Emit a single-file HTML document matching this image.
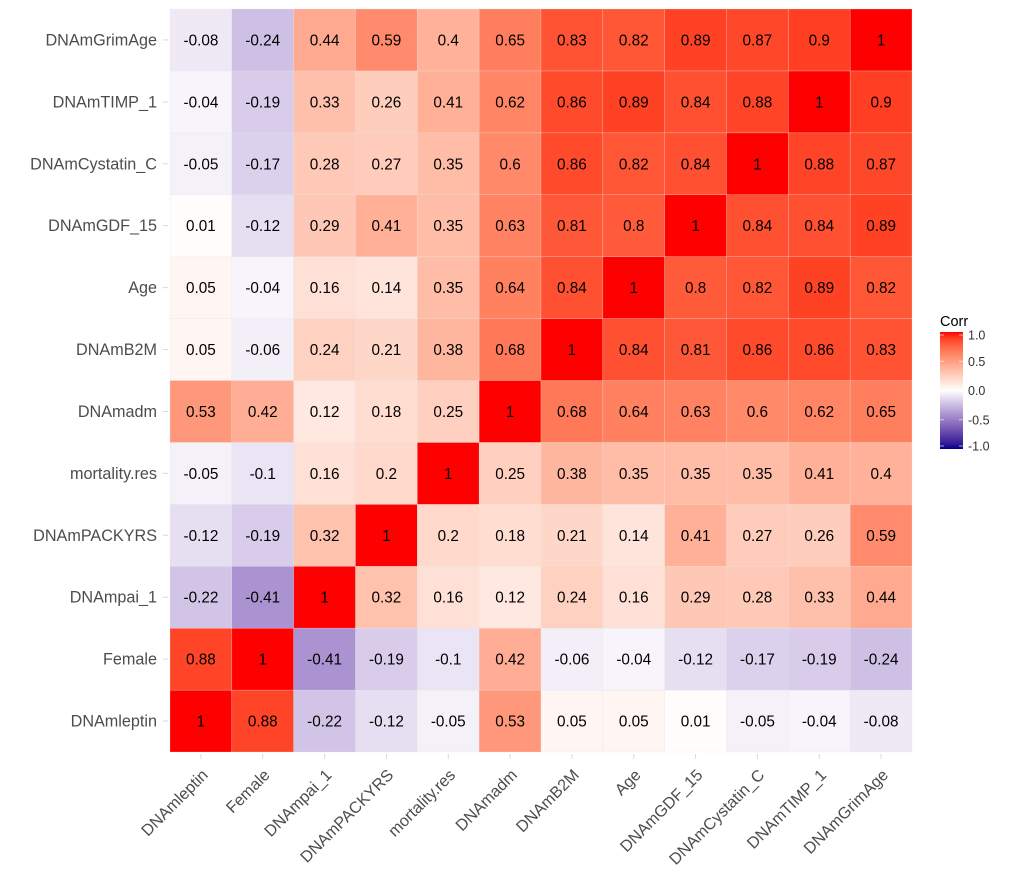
<!DOCTYPE html>
<html><head><meta charset="utf-8"><style>
body{margin:0;background:#fff;}
svg text{font-family:"Liberation Sans",Arial,sans-serif;}
</style></head><body>
<svg id="chart" width="1020" height="871" xmlns="http://www.w3.org/2000/svg">
<defs><linearGradient id="lg" x1="0" y1="1" x2="0" y2="0"></linearGradient></defs>
<g id="cells"></g><g id="labels"></g><g id="legend"></g>
</svg>
<script>
const variables=["DNAmleptin","Female","DNAmpai_1","DNAmPACKYRS","mortality.res","DNAmadm","DNAmB2M","Age","DNAmGDF_15","DNAmCystatin_C","DNAmTIMP_1","DNAmGrimAge"];
// rows listed bottom (DNAmleptin) to top (DNAmGrimAge); columns in variables order
const rowLeptin=[1,0.88,-0.22,-0.12,-0.05,0.53,0.05,0.05,0.01,-0.05,-0.04,-0.08];
const rowFemale=[0.88,1,-0.41,-0.19,-0.1,0.42,-0.06,-0.04,-0.12,-0.17,-0.19,-0.24];
const rowPai=[-0.22,-0.41,1,0.32,0.16,0.12,0.24,0.16,0.29,0.28,0.33,0.44];
const rowPack=[-0.12,-0.19,0.32,1,0.2,0.18,0.21,0.14,0.41,0.27,0.26,0.59];
const rowMort=[-0.05,-0.1,0.16,0.2,1,0.25,0.38,0.35,0.35,0.35,0.41,0.4];
const rowAdm=[0.53,0.42,0.12,0.18,0.25,1,0.68,0.64,0.63,0.6,0.62,0.65];
const rowB2M=[0.05,-0.06,0.24,0.21,0.38,0.68,1,0.84,0.81,0.86,0.86,0.83];
const rowAge=[0.05,-0.04,0.16,0.14,0.35,0.64,0.84,1,0.8,0.82,0.89,0.82];
const rowGDF=[0.01,-0.12,0.29,0.41,0.35,0.63,0.81,0.8,1,0.84,0.84,0.89];
const rowCyst=[-0.05,-0.17,0.28,0.27,0.35,0.6,0.86,0.82,0.84,1,0.88,0.87];
const rowTIMP=[-0.04,-0.19,0.33,0.26,0.41,0.62,0.86,0.89,0.84,0.88,1,0.9];
const rowGrim=[-0.08,-0.24,0.44,0.59,0.4,0.65,0.83,0.82,0.89,0.87,0.9,1];
const matrix=[rowLeptin,rowFemale,rowPai,rowPack,rowMort,rowAdm,rowB2M,rowAge,rowGDF,rowCyst,rowTIMP,rowGrim];
const legendTicks=[1.0,0.5,0.0,-0.5,-1.0];
const legendTickLabels=["1.0","0.5","0.0","-0.5","-1.0"];

const NS="http://www.w3.org/2000/svg";
const X0=170,X1=912,Y0=9,Y1=752,n=variables.length;
const cw=(X1-X0)/n, ch=(Y1-Y0)/n;
const xPos=i=>X0+i*cw;
const yPos=r=>Y1-(r+1)*ch;

function srgb2lin(c){c/=255;return c<=0.04045?c/12.92:Math.pow((c+0.055)/1.055,2.4);}
function lin2srgb(c){c=c<=0.0031308?12.92*c:1.055*Math.pow(c,1/2.4)-0.055;return Math.round(Math.max(0,Math.min(1,c))*255);}
function toLab(rgb){const [r,g,b]=rgb.map(srgb2lin);
 let x=(0.4124*r+0.3576*g+0.1805*b)/0.95047,y=(0.2126*r+0.7152*g+0.0722*b),z=(0.0193*r+0.1192*g+0.9505*b)/1.08883;
 const f=t=>t>0.008856?Math.cbrt(t):7.787*t+16/116;
 return [116*f(y)-16,500*(f(x)-f(y)),200*(f(y)-f(z))];}
function fromLab(l){const fy=(l[0]+16)/116,fx=fy+l[1]/500,fz=fy-l[2]/200;
 const g=t=>t*t*t>0.008856?t*t*t:(t-16/116)/7.787;
 const x=g(fx)*0.95047,y=g(fy),z=g(fz)*1.08883;
 const r=3.2406*x-1.5372*y-0.4986*z,gg=-0.9689*x+1.8758*y+0.0415*z,b=0.0557*x-0.2040*y+1.0570*z;
 return `rgb(${lin2srgb(r)},${lin2srgb(gg)},${lin2srgb(b)})`;}
const LB=toLab([0,0,139]),LW=toLab([255,255,255]),LR=toLab([255,0,0]);
function color(v){v=Math.max(-1,Math.min(1,v));const a=LW,b=v<0?LB:LR,t=Math.abs(v);
 return fromLab([a[0]+(b[0]-a[0])*t,a[1]+(b[1]-a[1])*t,a[2]+(b[2]-a[2])*t]);}

const cells=document.getElementById('cells'),labels=document.getElementById('labels'),legend=document.getElementById('legend');
function mk(tag,attrs,parent){const e=document.createElementNS(NS,tag);for(const k in attrs)e.setAttribute(k,attrs[k]);parent.appendChild(e);return e;}

matrix.forEach((row,r)=>{row.forEach((v,c)=>{
 const rect=mk('rect',{x:xPos(c),y:yPos(r),width:cw,height:ch,fill:color(v),stroke:'rgba(230,230,230,0.5)','stroke-width':0.5},cells);
 
 
 const t=mk('text',{x:xPos(c)+cw/2,y:yPos(r)+ch/2+5.5,'text-anchor':'middle','font-size':15.3,fill:'#000'},cells);
 t.textContent=String(v);
 
 
});});

variables.forEach((name,i)=>{
 const cy=yPos(i)+ch/2;
 mk('line',{x1:163,x2:168,y1:cy,y2:cy,stroke:'#d9d9d9'},labels);
 const ty=mk('text',{x:157,y:cy+5.5,'text-anchor':'end','font-size':16.2,fill:'#4d4d4d'},labels);
 ty.textContent=name;
 
 
 const cx=xPos(i)+cw/2;
 mk('line',{x1:cx,x2:cx,y1:754,y2:759,stroke:'#d9d9d9'},labels);
 const ax=cx+8,ay=776;
 const tx=mk('text',{x:ax,y:ay,'text-anchor':'end','font-size':16.2,fill:'#4d4d4d',transform:`rotate(-45 ${ax} ${ay})`},labels);
 tx.textContent=name;
 
 
});

const grad=document.getElementById('lg');
for(let k=0;k<=20;k++){const v=-1+k*0.1;mk('stop',{offset:(k/20),'stop-color':color(v)},grad);}
const LX=940,LY0=332,LY1=449;
const title=mk('text',{x:940,y:326,'font-size':14.5,fill:'#000'},legend);
title.textContent='Corr';


const bar=mk('rect',{x:LX,y:LY0,width:23,height:LY1-LY0,fill:'url(#lg)'},legend);


const ly=v=>LY1-(v+1)/2*(LY1-LY0)-(v===1?-3:v===-1?3:0);
legendTicks.forEach((v,i)=>{
 const y=ly(v);
 mk('line',{x1:LX,x2:LX+4,y1:y,y2:y,stroke:'rgba(255,255,255,0.6)'},legend);
 mk('line',{x1:LX+19,x2:LX+23,y1:y,y2:y,stroke:'rgba(255,255,255,0.6)'},legend);
 const t=mk('text',{x:968,y:y+4.5,'font-size':12.5,fill:'#333'},legend);
 t.textContent=legendTickLabels[i];
 
 
});
</script>
</body></html>
